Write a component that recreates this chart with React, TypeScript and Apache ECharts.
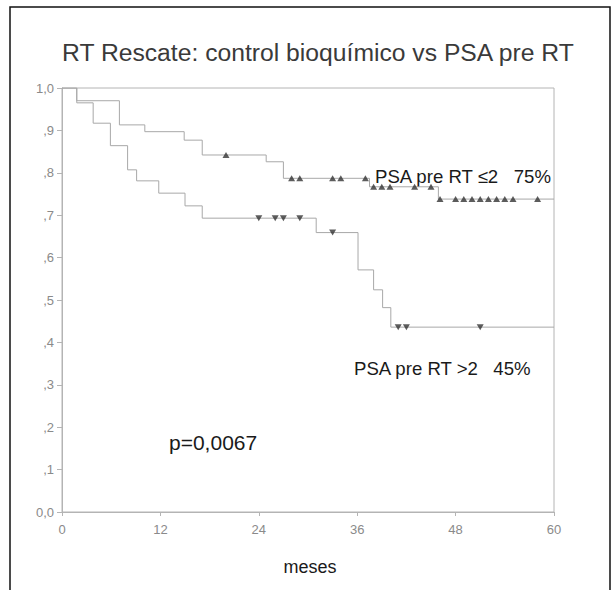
import React, { useEffect, useRef } from "react";
import * as echarts from "echarts";

const titleText = "RT Rescate: control bioquímico vs PSA pre RT";
const xAxisName = "meses";
const xTicks = [0, 12, 24, 36, 48, 60];
const yTicks = [0, 0.1, 0.2, 0.3, 0.4, 0.5, 0.6, 0.7, 0.8, 0.9, 1.0];
const yTickLabels = ["0,0", ",1", ",2", ",3", ",4", ",5", ",6", ",7", ",8", ",9", "1,0"];

// PSA pre RT <= 2 (upper curve)
const lowPsaTimes = [0, 1.8, 7.0, 10.1, 14.9, 17.1, 24.9, 27.0, 37.5, 45.9, 60];
const lowPsaSurv = [1, 0.97, 0.913, 0.897, 0.877, 0.842, 0.826, 0.787, 0.767, 0.738, 0.738];
const lowPsaCensored = [20, 28, 29, 33, 34, 37, 38, 39, 40, 43, 45, 46.1, 48, 49, 50, 51, 52, 53, 54, 55, 58];

// PSA pre RT > 2 (lower curve)
const highPsaTimes = [0, 1.8, 3.8, 5.9, 8.0, 9.1, 11.8, 15.0, 17.1, 31.0, 36.1, 38.0, 39.1, 40.1, 60];
const highPsaSurv = [1, 0.965, 0.917, 0.864, 0.807, 0.781, 0.752, 0.722, 0.693, 0.659, 0.571, 0.524, 0.482, 0.436, 0.436];
const highPsaCensored = [24, 26, 27, 29, 33, 41, 42, 51];

const labelLow = "PSA pre RT ≤2   75%";
const labelHigh = "PSA pre RT >2   45%";
const pValueText = "p=0,0067";

function survAt(times: number[], surv: number[], t: number): number {
  let v = surv[0];
  for (let i = 0; i < times.length; i++) {
    if (times[i] <= t) v = surv[i];
  }
  return v;
}

export default function App() {
  const ref = useRef<HTMLDivElement>(null);
  useEffect(() => {
    if (!ref.current) return;
    const chart = echarts.init(ref.current, undefined, { renderer: "svg" });
    const font = "'Liberation Sans', Arial, sans-serif";
    const lineColor = "#a8a8a8";
    const markColor = "#333";
    chart.setOption({
      animation: false,
      backgroundColor: "#fff",
      grid: {
        left: 62,
        top: 88,
        width: 492,
        height: 424,
        show: true,
        borderColor: "#b4b4b4",
        borderWidth: 1,
      },
      xAxis: {
        type: "value",
        min: 0,
        max: 60,
        interval: 12,
        axisLine: { show: true, lineStyle: { color: "#b4b4b4" } },
        axisTick: { show: true, inside: false, length: 4, lineStyle: { color: "#b4b4b4" } },
        splitLine: { show: false },
        axisLabel: {
          color: "#8a8a8a",
          fontSize: 13,
          fontFamily: font,
          margin: 11,
          formatter: (v: number) => (xTicks.includes(v) ? String(v) : ""),
        },
      },
      yAxis: {
        type: "value",
        min: 0,
        max: 1,
        interval: 0.1,
        axisLine: { show: true, lineStyle: { color: "#b4b4b4" } },
        axisTick: { show: true, inside: false, length: 5, lineStyle: { color: "#b4b4b4" } },
        splitLine: { show: false },
        axisLabel: {
          color: "#8a8a8a",
          fontSize: 13,
          fontFamily: font,
          margin: 8,
          formatter: (v: number) => {
            const i = yTicks.findIndex((t) => Math.abs(t - v) < 1e-6);
            return i >= 0 ? yTickLabels[i] : "";
          },
        },
      },
      graphic: [
        {
          type: "rect",
          shape: { x: 10, y: 7, width: 600, height: 620 },
          style: { fill: "none", stroke: "#111", lineWidth: 1.5 },
          silent: true,
        },
        {
          type: "text",
          x: 62,
          y: 52,
          style: {
            text: titleText,
            fill: "#3a3a3a",
            font: `24.7px ${font}`,
            textAlign: "left",
            textVerticalAlign: "middle",
          },
        },
        {
          type: "text",
          x: 375,
          y: 176,
          style: { text: labelLow, fill: "#1a1a1a", font: `18.6px ${font}`, textAlign: "left", textVerticalAlign: "middle" },
        },
        {
          type: "text",
          x: 354,
          y: 368,
          style: { text: labelHigh, fill: "#1a1a1a", font: `18.6px ${font}`, textAlign: "left", textVerticalAlign: "middle" },
        },
        {
          type: "text",
          x: 169,
          y: 442,
          style: { text: pValueText, fill: "#1a1a1a", font: `21px ${font}`, textAlign: "left", textVerticalAlign: "middle" },
        },
        {
          type: "text",
          x: 310,
          y: 567,
          style: { text: xAxisName, fill: "#1a1a1a", font: `18px ${font}`, textAlign: "center", textVerticalAlign: "middle" },
        },
      ],
      series: [
        {
          type: "line",
          step: "end",
          symbol: "none",
          lineStyle: { color: lineColor, width: 1 },
          data: lowPsaTimes.map((t, i) => [t, lowPsaSurv[i]]),
          z: 2,
        },
        {
          type: "line",
          step: "end",
          symbol: "none",
          lineStyle: { color: lineColor, width: 1 },
          data: highPsaTimes.map((t, i) => [t, highPsaSurv[i]]),
          z: 2,
        },
        {
          type: "scatter",
          symbol: "triangle",
          symbolSize: [7, 6],
          itemStyle: { color: markColor },
          data: lowPsaCensored.map((t) => [t, survAt(lowPsaTimes, lowPsaSurv, t)]),
          z: 3,
        },
        {
          type: "scatter",
          symbol: "triangle",
          symbolRotate: 180,
          symbolSize: [7, 6],
          itemStyle: { color: markColor },
          data: highPsaCensored.map((t) => [t, survAt(highPsaTimes, highPsaSurv, t)]),
          z: 3,
        },
      ],
    });
    return () => chart.dispose();
  }, []);
  return <div ref={ref} style={{ width: 614, height: 590, position: "absolute", left: 0, top: 0 }} />;
}
